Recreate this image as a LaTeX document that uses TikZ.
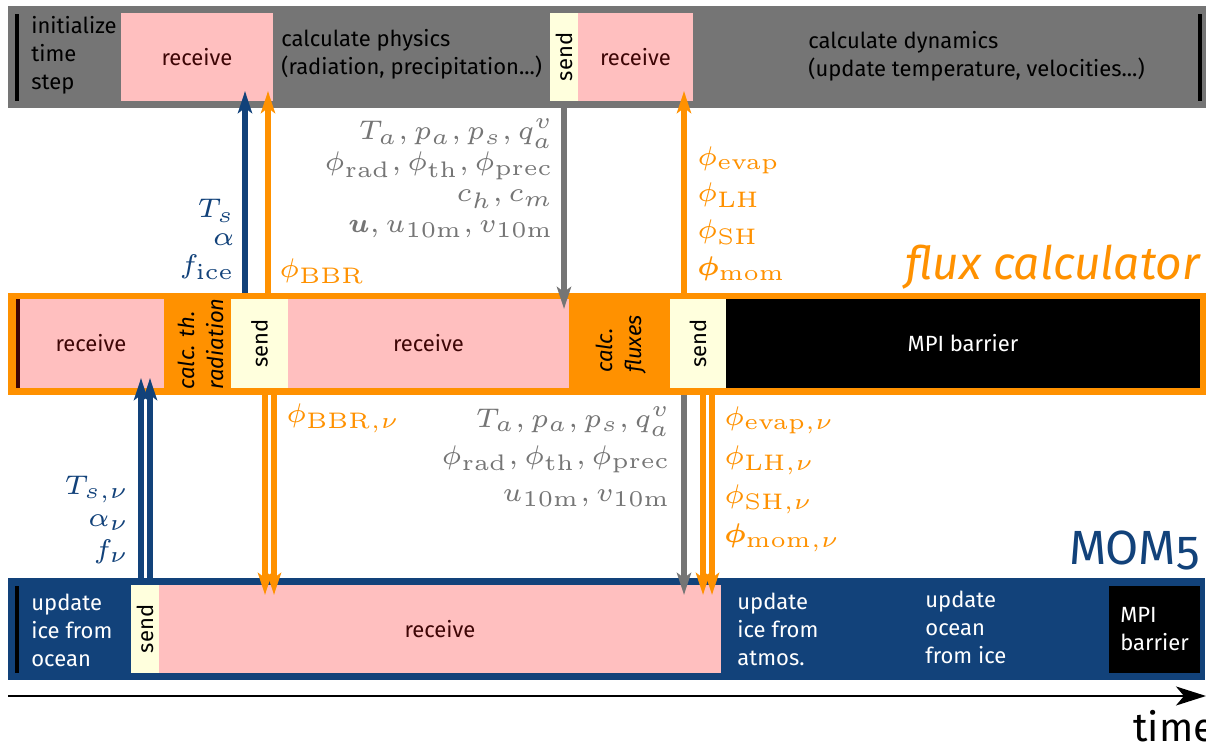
\documentclass[tikz,border=0pt]{standalone}
\usepackage{fix-cm}
\usepackage{amsmath}
\usepackage{bm}
\usepackage[no-math]{fontspec}
\setmainfont{Fira Sans}
\usetikzlibrary{arrows.meta}
\definecolor{atmgray}{RGB}{117,117,117}
\definecolor{recvpink}{RGB}{255,191,191}
\definecolor{recvtext}{RGB}{62,6,6}
\definecolor{sendyellow}{RGB}{255,255,221}
\definecolor{fluxorange}{RGB}{255,145,0}
\definecolor{ocnblue}{RGB}{18,66,122}
% small math, blown up
\newcommand{\lblstack}[3]{\scalebox{2.25}{\fontsize{6}{#2}\selectfont\begin{tabular}{@{}#1@{}}#3\end{tabular}}}

\begin{document}
\begin{tikzpicture}[x=0.5pt,y=-0.5pt,
   bar/.style={anchor=north west,inner sep=0pt,outer sep=0pt,minimum height=51pt},
   box/.style={anchor=north west,inner sep=0pt,outer sep=0pt,font=\fontsize{11}{14}\selectfont},
   recvbox/.style={box,fill=recvpink,text=recvtext},
   sendbox/.style={box,fill=sendyellow,text=black},
   mpibox/.style={box,fill=black,text=white,align=left},
   steptext/.style={anchor=west,align=left,inner sep=0pt,font=\fontsize{11}{14}\selectfont},
   calctext/.style={rotate=90,align=left,inner sep=0pt,font=\fontsize{11}{14.5}\selectfont\itshape},
   mathlbl/.style={inner sep=0pt},
   link/.style={line width=2.75pt,-{Stealth[length=11pt,width=7pt,inset=2.5pt]},shorten >=-5pt}]
   \useasboundingbox (0,0) rectangle (1206,747);
   % Atmosphere
   \node[bar,fill=atmgray,minimum width=599pt] (atmbar) at (8,6) {};
   \node[box,fill=black,minimum width=2pt,minimum height=43.5pt] (atmstart) at (15,14) {};
   \node[steptext] (init) at (31,55) {initialize\\time\\step};
   \node[recvbox,minimum width=76pt,minimum height=44pt] (recvA) at (121,13) {receive};
   \node[steptext] (phys) at (281,54) {calculate physics\\(radiation, precipitation...)};
   \node[sendbox,minimum width=14pt,minimum height=44pt] (sendA) at (550,13) {\rotatebox{90}{send}};
   \node[recvbox,minimum width=57.5pt,minimum height=44pt] (recvB) at (578,13) {receive};
   \node[steptext] (dyn) at (808,56) {calculate dynamics\\(update temperature, velocities...)};
   \node[box,fill=black,minimum width=2pt,minimum height=43.5pt] (atmend) at (1198,14) {};
   % Flux calculator
   \node[bar,fill=fluxorange,minimum width=599pt] (fluxbar) at (8,293) {};
   \node[recvbox,minimum width=73pt,minimum height=44.5pt] (recvC) at (18,299) {receive};
   \node[box,fill=recvtext,minimum width=2pt,minimum height=44.5pt] (fluxstart) at (16,299) {};
   \node[calctext] (calcrad) at (201,344) {calc. th.\\radiation};
   \node[sendbox,minimum width=28.5pt,minimum height=44.5pt] (sendB) at (231,299) {\rotatebox{90}{send}};
   \node[recvbox,minimum width=140.5pt,minimum height=44.5pt] (recvD) at (288,299) {receive};
   \node[calctext] (calcflx) at (621,344) {calc.\\fluxes};
   \node[sendbox,minimum width=28pt,minimum height=44.5pt] (sendC) at (670,299) {\rotatebox{90}{send}};
   \node[mpibox,minimum width=237pt,minimum height=44.5pt] (mpiA) at (726,299) {MPI barrier};
   \node[anchor=base east,inner sep=0pt,text=fluxorange,font=\fontsize{23}{23}\selectfont\itshape] (fluxname) at (1200,280) {flux calculator};
   % Ocean
   \node[bar,fill=ocnblue,minimum width=598.5pt] (ocnbar) at (8,578) {};
   \node[box,fill=black,minimum width=2pt,minimum height=43.5pt] (ocnstart) at (15,586) {};
   \node[steptext,text=white] (iceocn) at (31,630) {update\\ice from\\ocean};
   \node[sendbox,minimum width=14pt,minimum height=44pt] (sendD) at (131,585) {\rotatebox{90}{send}};
   \node[recvbox,minimum width=281pt,minimum height=44pt] (recvE) at (159,585) {receive};
   \node[steptext,text=white] (iceatm) at (737,629) {update\\ice from\\atmos.};
   \node[steptext,text=white] (ocnice) at (925,627) {update\\ocean\\from ice};
   \node[mpibox,minimum width=45.5pt,minimum height=43.5pt] (mpiB) at (1109,586) {MPI\\barrier};
   \node[anchor=base east,inner sep=0pt,text=ocnblue,font=\fontsize{24}{24}\selectfont\addfontfeature{Numbers=OldStyle}] (ocnname) at (1200,565) {MOM5};
   % Time axis
   \coordinate (t0) at (8,696);
   \coordinate (t1) at (1206,696);
   \draw[line width=1pt,-{Stealth[length=15pt,width=9.5pt,inset=4pt]}] (t0) -- (t1);
   \node[anchor=base west,inner sep=0pt,font=\fontsize{20}{20}\selectfont] (timelbl) at (1133,742) {time};
   % Labels, upper half
   \node[mathlbl,text=ocnblue,anchor=east] (lblts) at (235,240) {\lblstack{r}{6.2}{$T_s$\\$\alpha$\\$f_{\mathrm{ice}}$}};
   \node[mathlbl,text=fluxorange,anchor=west] (lblbbr) at (279,272) {\lblstack{l}{6.2}{$\phi_{\mathrm{BBR}}$}};
   \node[mathlbl,text=atmgray,anchor=east] (lblatm) at (554,180)
      {\lblstack{r}{6.9}{$T_a, p_a, p_s, q_a^v$\\$\phi_{\mathrm{rad}}, \phi_{\mathrm{th}}, \phi_{\mathrm{prec}}$\\$c_h, c_m$\\$\bm{u}, u_{10\mathrm{m}}, v_{10\mathrm{m}}$}};
   \node[mathlbl,text=fluxorange,anchor=west] (lblflx) at (697,213)
      {\lblstack{l}{8.2}{$\phi_{\mathrm{evap}}$\\$\phi_{\mathrm{LH}}$\\$\phi_{\mathrm{SH}}$\\$\bm{\phi}_{\mathrm{mom}}$}};
   % Labels, lower half
   \node[mathlbl,text=ocnblue,anchor=east] (lbltsn) at (130,520) {\lblstack{r}{7.1}{$T_{s,\nu}$\\$\alpha_\nu$\\$f_\nu$}};
   \node[mathlbl,text=fluxorange,anchor=west] (lblbbrn) at (286,418) {\lblstack{l}{6.2}{$\phi_{\mathrm{BBR},\nu}$}};
   \node[mathlbl,text=atmgray,anchor=east] (lblatmn) at (671,457)
      {\lblstack{r}{8.2}{$T_a, p_a, p_s, q_a^v$\\$\phi_{\mathrm{rad}}, \phi_{\mathrm{th}}, \phi_{\mathrm{prec}}$\\$u_{10\mathrm{m}}, v_{10\mathrm{m}}$}};
   \node[mathlbl,text=fluxorange,anchor=west] (lblflxn) at (724,476)
      {\lblstack{l}{8.7}{$\phi_{\mathrm{evap},\nu}$\\$\phi_{\mathrm{LH},\nu}$\\$\phi_{\mathrm{SH},\nu}$\\$\bm{\phi}_{\mathrm{mom},\nu}$}};
   % Arrows, upper half
   \draw[link,ocnblue] (245,0 |- fluxbar.north) -- (245,0 |- recvA.south);
   \draw[link,fluxorange] (268,0 |- fluxbar.north) -- (268,0 |- recvA.south);
   \draw[link,atmgray] (564,0 |- atmbar.south) -- (564,0 |- recvD.north);
   \draw[link,fluxorange] (684,0 |- fluxbar.north) -- (684,0 |- recvB.south);
   % Arrows, lower half
   \foreach \x in {141,150}
      \draw[link,ocnblue] (\x,0 |- ocnbar.north) -- (\x,0 |- recvC.south);
   \foreach \x in {265,274,703,712}
      \draw[link,fluxorange] (\x,0 |- fluxbar.south) -- (\x,0 |- recvE.north);
   \draw[link,atmgray] (684,0 |- fluxbar.south) -- (684,0 |- recvE.north);
\end{tikzpicture}
\end{document}
